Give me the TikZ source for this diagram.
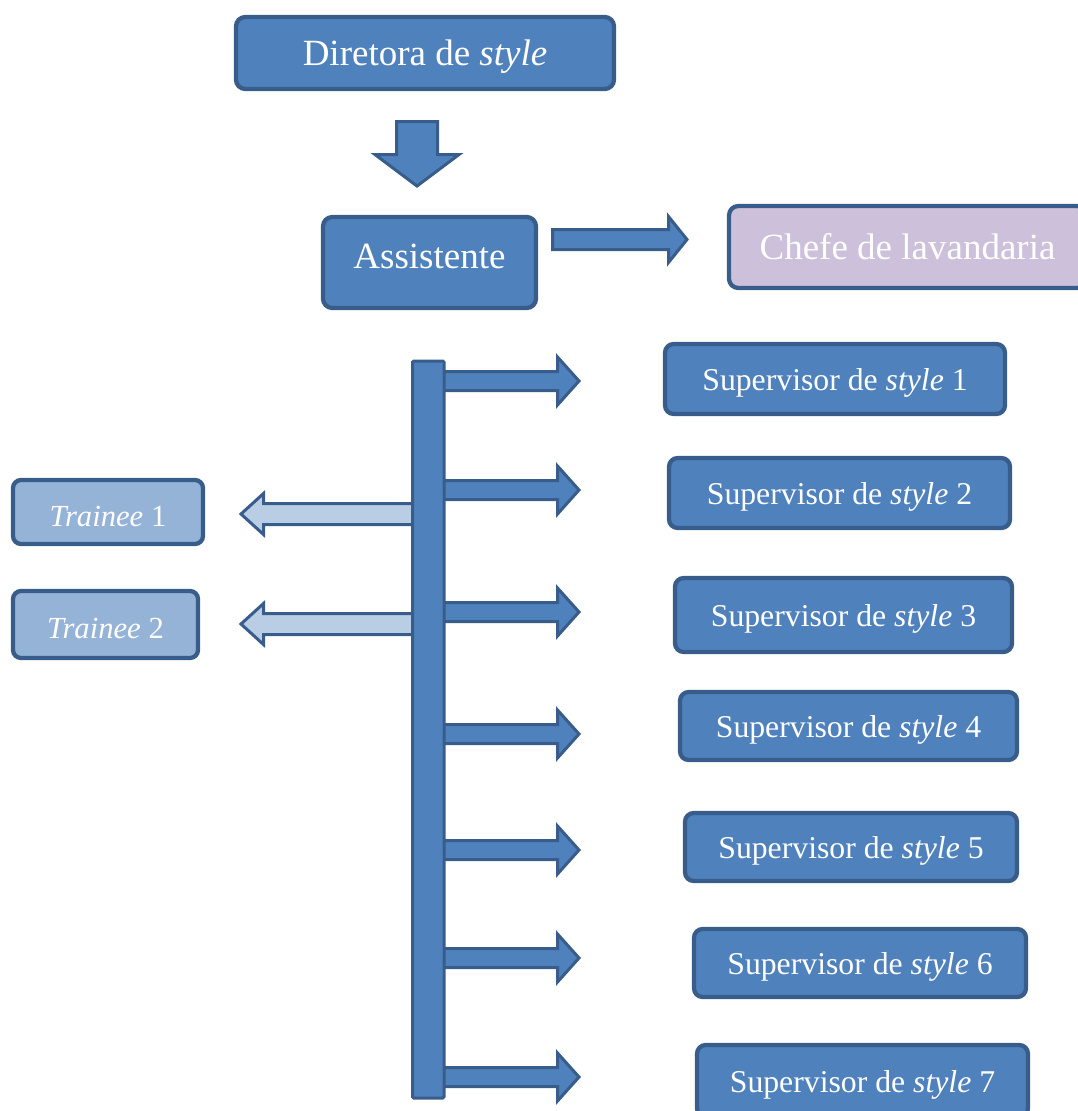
\documentclass[tikz,border=0pt]{standalone}
\usepackage{fontspec}
\setmainfont{Liberation Serif}
\usetikzlibrary{fit}
\definecolor{fillblue}{HTML}{4F81BD}
\definecolor{edgeblue}{HTML}{385D8A}
\definecolor{lightblue}{HTML}{95B3D7}
\definecolor{paleblue}{HTML}{B9CDE5}
\definecolor{lavender}{HTML}{CCC0DA}
% right block arrow from the bar: #1 = y centre, #2 = style
\newcommand\rightblock[2]{%
  \draw[#2] (443,{#1-9.5}) -- (557.5,{#1-9.5}) -- (557.5,{#1-24}) -- (579,#1)
    -- (557.5,{#1+24}) -- (557.5,{#1+9.5}) -- (443,{#1+9.5}) -- cycle;}
% left block arrow from the bar
\newcommand\leftblock[2]{%
  \draw[#2] (413,{#1-10.5}) -- (263.5,{#1-10.5}) -- (263.5,{#1-20.5}) -- (241,#1)
    -- (263.5,{#1+20.5}) -- (263.5,{#1+10.5}) -- (413,{#1+10.5}) -- cycle;}
\begin{document}
\begin{tikzpicture}[x=0.75pt,y=-0.75pt,
  boxbase/.style={draw=edgeblue, line width=3.2pt, fill=fillblue,
    inner sep=0pt, rounded corners=7pt},
  txt/.style={text=white, inner sep=0pt, anchor=center, yshift=-3pt},
  bigtxt/.style={txt, font=\fontsize{27.75}{32}\selectfont},
  suptxt/.style={txt, font=\fontsize{23.8}{28}\selectfont},
  trtxt/.style={txt, font=\fontsize{23}{27}\selectfont},
  bigbox/.style={boxbase},
  supbox/.style={boxbase, rounded corners=6.5pt},
  trbox/.style={boxbase, fill=lightblue, rounded corners=6pt},
  blockarrow/.style={draw=edgeblue, line width=2.25pt, fill=fillblue, line join=miter},
  paleblockarrow/.style={blockarrow, fill=paleblue},
  barstyle/.style={draw=edgeblue, line width=2.25pt, fill=fillblue, rounded corners=1pt},
]
\useasboundingbox (0,0) rectangle (1078,1111);

% top boxes
\node[bigbox, fit={(236,17) (614,89)}, label={[bigtxt]center:Diretora de \textit{style}}] (dir) {};
\node[bigbox, fit={(323,217) (536,308)}, label={[bigtxt, yshift=7.5pt]center:Assistente}] (asst) {};
\node[bigbox, fill=lavender, fit={(729,206) (1086,288)}, label={[bigtxt, yshift=3pt]center:Chefe de lavandaria}] (chefe) {};

% down arrow
\draw[blockarrow] (396.5,121.5) -- (437.5,121.5) -- (437.5,154.5) -- (459,154.5)
  -- (417,186) -- (375,154.5) -- (396.5,154.5) -- cycle;
% assistant -> chefe arrow
\draw[blockarrow] (552.5,229.5) -- (668.5,229.5) -- (668.5,216.5) -- (687,239.5)
  -- (668.5,262.5) -- (668.5,249.5) -- (552.5,249.5) -- cycle;

% branch arrows
\foreach \yy in {381,490,612,734,850,958,1077} {\rightblock{\yy}{blockarrow}}
\leftblock{514}{paleblockarrow}
\leftblock{624}{paleblockarrow}

% vertical bar
\draw[barstyle] (412.5,361) rectangle (444,1098);

% supervisors
\node[supbox, fit={(665,344) (1005,414)}, label={[suptxt]center:Supervisor de \textit{style} 1}] (s1) {};
\node[supbox, fit={(669,458) (1010,528)}, label={[suptxt]center:Supervisor de \textit{style} 2}] (s2) {};
\node[supbox, fit={(675,578) (1012,652)}, label={[suptxt]center:Supervisor de \textit{style} 3}] (s3) {};
\node[supbox, fit={(680,692) (1017,760)}, label={[suptxt]center:Supervisor de \textit{style} 4}] (s4) {};
\node[supbox, fit={(685,813) (1017,881)}, label={[suptxt]center:Supervisor de \textit{style} 5}] (s5) {};
\node[supbox, fit={(694,929) (1026,997)}, label={[suptxt]center:Supervisor de \textit{style} 6}] (s6) {};
\node[supbox, fit={(697,1045) (1028,1117)}, label={[suptxt]center:Supervisor de \textit{style} 7}] (s7) {};

% trainees
\node[trbox, fit={(13,480) (203,544)}, label={[trtxt]center:\textit{Trainee} 1}] (t1) {};
\node[trbox, fit={(13,591) (198,658)}, label={[trtxt]center:\textit{Trainee} 2}] (t2) {};
\end{tikzpicture}
\end{document}
